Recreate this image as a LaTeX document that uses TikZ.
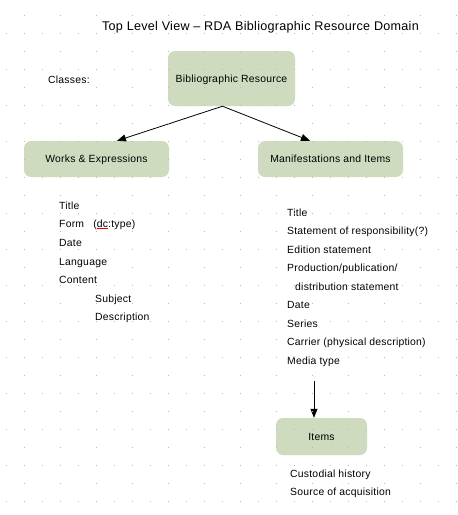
\documentclass[tikz,border=0pt]{standalone}
\usepackage{fontspec}
\setmainfont{Liberation Sans}[LetterSpace=2.2]
\usetikzlibrary{arrows.meta}
\definecolor{boxfill}{RGB}{207,219,191}
\definecolor{griddot}{RGB}{185,185,185}
\tikzset{
  cls/.style={draw=none, fill=boxfill, rounded corners=7pt, inner sep=0pt,
    text height=7.5pt, text depth=0pt,
    font=\fontsize{10.4}{12}\selectfont},
  lbl/.style={anchor=base west, inner sep=0pt, font=\fontsize{10.4}{12}\selectfont},
  link/.style={-{Triangle[length=9pt,width=7pt]}, line width=0.8pt},
  gdot/.style={fill=griddot},
}
\begin{document}
\begin{tikzpicture}[x=1pt,y=-1pt]
\useasboundingbox (0,0) rectangle (458,515);
\fill[white] (0,0) rectangle (458,515);

% title
\node[anchor=base, inner sep=0pt, font=\fontsize{12.6}{14}\selectfont] (title) at (260.5,30.7)
  {Top Level View -- RDA Bibliographic Resource Domain};
\node[lbl] (classes) at (48,83) {Classes:};

% class boxes
\node[cls, minimum width=127pt, minimum height=55pt] (br) at (231.5,78.5) {Bibliographic Resource};
\node[cls, minimum width=145pt, minimum height=36pt] (we) at (96.5,159) {Works \& Expressions};
\node[cls, minimum width=145pt, minimum height=36pt] (mi) at (330.5,159) {Manifestations and Items};
\node[cls, minimum width=91pt, minimum height=37pt] (it) at (321.5,436.5) {Items};

% connectors
\draw[link] ([xshift=-9pt]br.south) -- ([xshift=20.5pt]we.north);
\draw[link] ([xshift=-9pt]br.south) -- ([xshift=-20.5pt]mi.north);
\coordinate (mstart) at (314,381);
\draw[link] (mstart) -- (mstart |- it.north);

% works & expressions attributes
\node[lbl] (w1) at (59,209) {Title};
\node[lbl] (w2) at (59,227) {Form\ \ \ ({\color{red}\underline{\color{black}dc}}:type)};
\node[lbl] (w3) at (59,246) {Date};
\node[lbl] (w4) at (59,265) {Language};
\node[lbl] (w5) at (59,283) {Content};
\node[lbl] (w6) at (95,302) {Subject};
\node[lbl] (w7) at (95,320) {Description};

% manifestation attributes
\node[lbl] (m1) at (287,216) {Title};
\node[lbl] (m2) at (287,234) {Statement of responsibility(?)};
\node[lbl] (m3) at (287,253) {Edition statement};
\node[lbl] (m4) at (287,271) {Production/publication/};
\node[lbl] (m5) at (295,290) {distribution statement};
\node[lbl] (m6) at (287,308) {Date};
\node[lbl] (m7) at (287,327) {Series};
\node[lbl] (m8) at (287,345) {Carrier (physical description)};
\node[lbl] (m9) at (287,364) {Media type};

% item attributes
\node[lbl] (i1) at (290,477) {Custodial history};
\node[lbl] (i2) at (290,495) {Source of acquisition};

% dotted grid
\foreach \j in {1,3,...,27} {
  \foreach \i in {0,...,25} {
    \fill[gdot] ({6+18*\i-0.5},{15+18*\j-0.5}) rectangle ++(1,1);
  }
}
\foreach \j in {0,2,...,26} {
  \foreach \i in {1,3,...,25} {
    \fill[gdot] ({6+18*\i-0.5},{15+18*\j-0.5}) rectangle ++(1,1);
  }
}
\end{tikzpicture}
\end{document}
